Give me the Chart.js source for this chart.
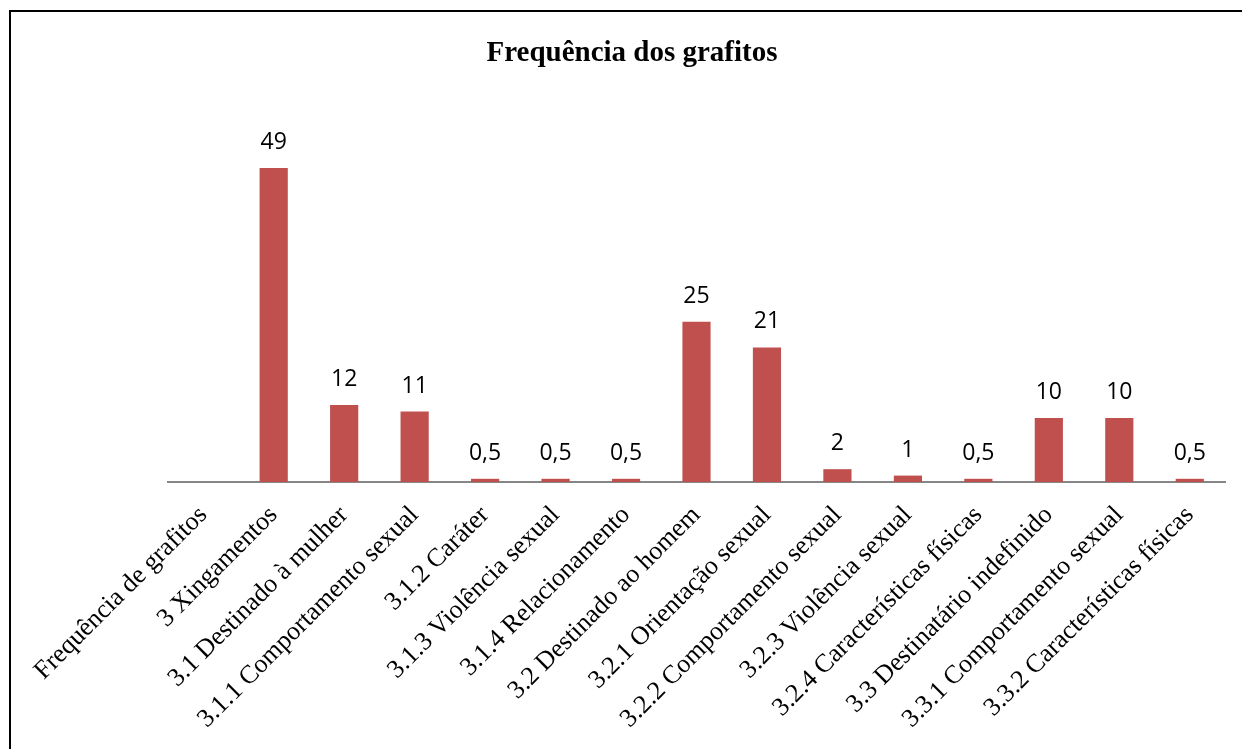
<!DOCTYPE html>
<html>
<head>
<meta charset="utf-8">
<script src="https://cdn.jsdelivr.net/npm/chart.js@4.4.0/dist/chart.umd.min.js"></script>
<style>
  html, body { margin: 0; padding: 0; background: #fff; overflow: hidden; }
  #frame {
    position: absolute; left: 9px; top: 10px;
    width: 1300px; height: 800px;
    border-left: 2px solid #000; border-top: 2px solid #000;
  }
  #wrap { position: absolute; left: 0; top: 0; width: 1242px; height: 737px; }
</style>
</head>
<body>
<div id="frame"><div id="wrap"><canvas id="myChart"></canvas></div></div>
<script>
const categories = [
  "Frequência de grafitos",
  "3 Xingamentos",
  "3.1 Destinado à mulher",
  "3.1.1 Comportamento sexual",
  "3.1.2 Caráter",
  "3.1.3 Violência sexual",
  "3.1.4 Relacionamento",
  "3.2 Destinado ao homem",
  "3.2.1 Orientação sexual",
  "3.2.2 Comportamento sexual",
  "3.2.3 Violência sexual",
  "3.2.4 Características físicas",
  "3.3 Destinatário indefinido",
  "3.3.1 Comportamento sexual",
  "3.3.2 Características físicas"
];
const frequencies = [null, 49, 12, 11, 0.5, 0.5, 0.5, 25, 21, 2, 1, 0.5, 10, 10, 0.5];
const chartTitle = "Frequência dos grafitos";

// value labels above the bars (decimal comma) + title centred on the whole frame
const valueLabels = {
  id: "valueLabels",
  afterDatasetsDraw(chart) {
    const ctx = chart.ctx;
    const meta = chart.getDatasetMeta(0);
    ctx.save();
    ctx.font = "23px 'Open Sans', sans-serif";
    ctx.fillStyle = "#000";
    ctx.textAlign = "center";
    ctx.textBaseline = "bottom";
    meta.data.forEach((bar, i) => {
      const v = frequencies[i];
      if (v === null) return;
      ctx.fillText(String(v).replace(".", ","), bar.x, bar.y - 14);
    });
    ctx.font = "bold 29px 'Liberation Serif', 'Times New Roman', serif";
    ctx.textBaseline = "middle";
    ctx.fillText(chartTitle, chart.width / 2, 42);
    ctx.restore();
  }
};

var ctx = document.getElementById("myChart").getContext("2d");
var myChart = new Chart(ctx, {
  type: "bar",
  data: {
    labels: categories,
    datasets: [
      {
        label: "Frequência",
        data: frequencies,
        backgroundColor: "#C0504D",
        borderWidth: 0,
        categoryPercentage: 1,
        barPercentage: 0.4,
      },
    ],
  },
  options: {
    responsive: true,
    maintainAspectRatio: false,
    animation: false,
    layout: { padding: { left: 157, right: 28, top: 111, bottom: 0 } },
    plugins: {
      legend: { display: false },
      tooltip: { enabled: false },
      title: { display: false },
    },
    scales: {
      x: {
        grid: { display: false },
        border: { display: true, color: "#868686", width: 2 },
        ticks: {
          color: "#000",
          minRotation: 45,
          maxRotation: 45,
          padding: 10,
          autoSkip: false,
          font: { family: "'Liberation Serif', 'Times New Roman', serif", size: 26 },
        },
        afterFit: (scale) => { scale.height = 267; },
      },
      y: {
        display: false,
        min: 0,
        max: 56,
      },
    },
  },
  plugins: [valueLabels],
});
</script>
</body>
</html>
